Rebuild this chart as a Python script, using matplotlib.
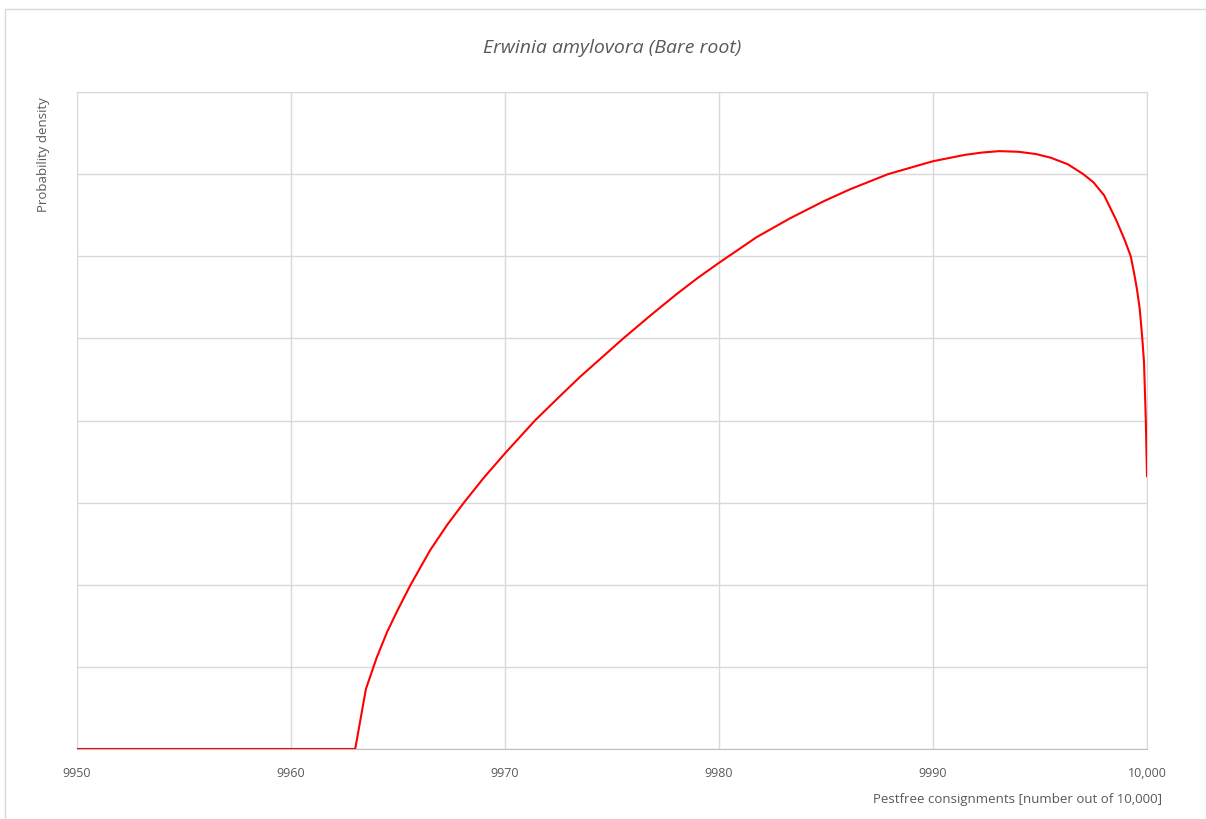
import numpy as np
import matplotlib
matplotlib.use("Agg")
from matplotlib import pyplot as plt

# pestfree consignments (x) and relative density in gridline units (y)
x_vals = [9950, 9963.0, 9963.5, 9964.0, 9964.5, 9965.0, 9965.59, 9966.5,
          9967.3, 9968.08, 9969.0, 9970.0, 9971.4, 9972.5, 9973.5, 9975.53,
          9976.8, 9978.0, 9979.0, 9980.0, 9981.76, 9983.32, 9984.87, 9986.12,
          9987.9, 9990.0, 9991.5, 9992.3, 9993.1, 9994.0,
          9994.8, 9995.5, 9996.3, 9997.02, 9997.5, 9998.0, 9998.58, 9998.97,
          9999.24, 9999.4, 9999.53, 9999.66, 9999.78, 9999.86, 9999.945, 10000]
y_vals = [0, 0, 0.73, 1.11, 1.43, 1.70, 2.00, 2.42,
          2.73, 3.00, 3.30, 3.60, 4.00, 4.28, 4.53, 5.00,
          5.28, 5.535, 5.735, 5.92, 6.233, 6.462, 6.667, 6.815,
          7.00, 7.157, 7.235, 7.263, 7.28, 7.272,
          7.245, 7.20, 7.12, 7.00, 6.90, 6.74, 6.43, 6.19,
          6.00, 5.79, 5.60, 5.36, 5.00, 4.71, 4.00, 3.32]
x_ticks = [9950, 9960, 9970, 9980, 9990, 10000]
x_tick_labels = ["9950", "9960", "9970", "9980", "9990", "10,000"]

plt.rcParams['font.family'] = ['Open Sans', 'DejaVu Sans']
txt = '#595959'
grid = '#d9d9d9'

fig = plt.figure(figsize=(12.06, 8.2), dpi=100)
ax = fig.add_axes([77/1206, 1 - 750/820, (1147-77)/1206, (750-93)/820])

ax.plot(x_vals, y_vals, color='#ff0000', lw=1.5, zorder=3,
        solid_joinstyle='round', solid_capstyle='round')

ax.set_xlim(9950, 10000)
ax.set_ylim(0, 8)
ax.set_xticks(x_ticks)
ax.set_xticklabels(x_tick_labels)
ax.set_yticks(range(0, 9))
ax.set_yticklabels([])
ax.grid(True, color=grid, lw=1)
ax.tick_params(length=0, labelsize=9, colors=txt, pad=12)
for s in ax.spines.values():
    s.set_color(grid)
ax.spines['bottom'].set_color('#bfbfbf')

fig.text(612/1206, 1 - 48/820, "Erwinia amylovora (Bare root)", ha='center', va='center',
         fontsize=14, style='italic', color=txt)
fig.text(44/1206, 1 - 155/820, "Probability density", ha='center', va='center',
         rotation=90, fontsize=9.5, color=txt)
fig.text(1162/1206, 1 - 800/820, "Pestfree consignments [number out of 10,000]",
         ha='right', va='center', fontsize=9.5, color=txt)

# light frame around the chart
fig.patches.append(plt.Rectangle((5/1206, -0.01), 1.0, 1 - 10/820 + 0.01, transform=fig.transFigure,
                                 fill=False, edgecolor=grid, lw=1))

fig.savefig("out.png", dpi=100)
